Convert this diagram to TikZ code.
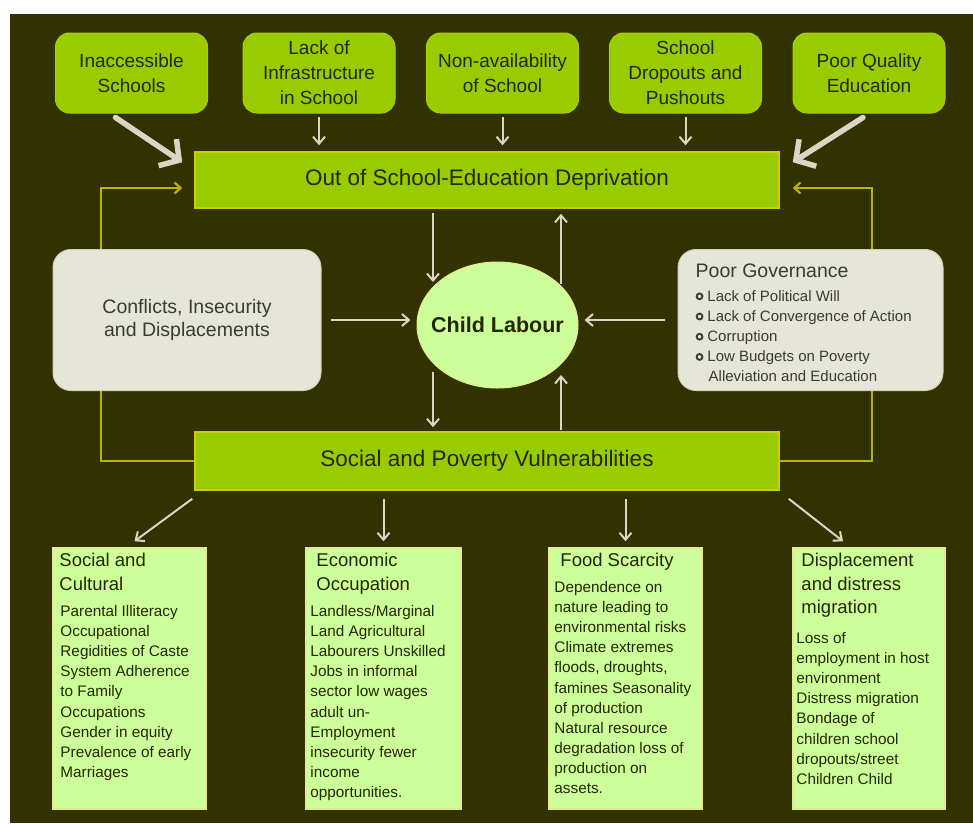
\documentclass[tikz,border=0pt]{standalone}
\usepackage{fontspec}
\setmainfont{Liberation Sans}
\usetikzlibrary{arrows.meta,calc,shapes.geometric}
\pgfdeclarelayer{back}
\pgfdeclarelayer{wires}
\pgfsetlayers{back,wires,main}

\definecolor{night}{HTML}{323200}
\definecolor{leaf}{HTML}{99CC00}
\definecolor{leafedge}{HTML}{ACCF00}
\definecolor{baredge}{HTML}{CCCC00}
\definecolor{pale}{HTML}{CCFF99}
\definecolor{paleedge}{HTML}{E6EA8C}
\definecolor{stone}{HTML}{E6E6D8}
\definecolor{stoneedge}{HTML}{CFCFBF}
\definecolor{chalk}{HTML}{DCD4C6}
\definecolor{loopy}{HTML}{B8B800}
\definecolor{ink}{HTML}{262600}
\definecolor{greyink}{HTML}{3A3A36}

% small open ring used as a list bullet
\newcommand\ringbul{\tikz[baseline=-0.6ex]\draw[line width=1.9pt] (0,0) circle (2.9pt);}

\begin{document}
\begin{tikzpicture}[x=1pt,y=-1pt,
  topbox/.style={rectangle, rounded corners=14pt, fill=leaf, draw=leafedge, line width=1pt,
    minimum width=152pt, minimum height=80pt, inner sep=0pt, align=center,
    font=\fontsize{19}{25}\selectfont, text=ink},
  bar/.style={rectangle, fill=leaf, draw=baredge, line width=1.6pt,
    minimum width=584pt, minimum height=56pt, inner sep=0pt,
    font=\fontsize{22.5}{26}\selectfont, text=ink},
  sidebox/.style={rectangle, rounded corners=18pt, fill=stone, draw=stoneedge, line width=1pt,
    minimum height=141pt, inner sep=0pt},
  hub/.style={ellipse, fill=pale, draw=paleedge, line width=1pt,
    minimum width=161pt, minimum height=126pt, inner sep=0pt},
  lowbox/.style={rectangle, fill=pale, draw=paleedge, line width=1.5pt,
    minimum height=261pt, inner sep=0pt},
  lowtitle/.style={anchor=north west, inner sep=0pt, align=left,
    font=\fontsize{18.5}{23.5}\selectfont, text=ink},
  lowbody/.style={anchor=north west, inner sep=0pt, align=left,
    font=\fontsize{15.3}{20.1}\selectfont, text=ink},
  flow/.style={draw=chalk, line width=2pt, -{Straight Barb[length=7pt,width=12pt]}},
  bigflow/.style={draw=chalk, line width=5.5pt, line cap=round,
    -{Straight Barb[length=14pt,width=32pt]}},
  loop/.style={draw=loopy, line width=2.2pt, -{Straight Barb[length=6pt,width=11pt]}}
]
\useasboundingbox (0,0) rectangle (973,823);
\begin{pgfonlayer}{back}
  \fill[white] (0,0) rectangle (973,823);
  \fill[night] (10,14) rectangle (973,823);
\end{pgfonlayer}

% causes along the top
\node[topbox] (t1) at (131.5,73) {Inaccessible\\Schools};
\node[topbox] (t2) at (319,73) {Lack of\\Infrastructure\\in School};
\node[topbox] (t3) at (502.5,73) {Non-availability\\of School};
\node[topbox] (t4) at (685.5,73) {School\\Dropouts and\\Pushouts};
\node[topbox] (t5) at (869,73) {Poor Quality\\Education};

% the two horizontal bars
\node[bar] (oos) at (487,180) {Out of School-Education Deprivation};
\node[bar, minimum height=58pt] (soc) at (487,461) {Social and Poverty Vulnerabilities};

% centre
\node[hub] (cl) at (497.5,325) {};
\node[inner sep=0pt, font=\fontsize{21.5}{24}\bfseries, text=ink] (cltext) at (cl.center) {Child Labour};
\node[sidebox, minimum width=268pt, align=center,
      font=\fontsize{19.5}{22.5}\selectfont, text=greyink] (conf) at (187,320)
      {Conflicts, Insecurity\\and Displacements};
\node[sidebox, minimum width=265pt] (gov) at (810.5,320) {};
\node[anchor=north west, inner sep=0pt, font=\fontsize{19.5}{23}\selectfont, text=greyink]
      (govtitle) at ($(gov.north west)+(18,15)$) {Poor Governance};
\node[anchor=north west, inner sep=0pt, align=left, font=\fontsize{15}{20.2}\selectfont, text=greyink]
      (govlist) at ($(gov.north west)+(18,41)$)
      {\ringbul\hspace{4pt}Lack of Political Will\\
       \ringbul\hspace{4pt}Lack of Convergence of Action\\
       \ringbul\hspace{4pt}Corruption\\
       \ringbul\hspace{4pt}Low Budgets on Poverty\\
       \hspace*{13pt}Alleviation and Education};

% dimensions of vulnerability
\node[lowbox, minimum width=153pt] (bA) at (129.5,678.5) {};
\node[lowbox, minimum width=155pt] (bB) at (383.5,678.5) {};
\node[lowbox, minimum width=153pt] (bC) at (625.5,678.5) {};
\node[lowbox, minimum width=152pt] (bD) at (869,678.5) {};

\node[lowtitle] (bAt) at ($(bA.north west)+(7,6)$) {Social and\\Cultural};
\node[lowbody]  (bAb) at ($(bA.north west)+(8,58)$)
  {Parental Illiteracy\\Occupational\\Regidities of Caste\\System Adherence\\to Family\\Occupations\\Gender in equity\\Prevalence of early\\Marriages};

\node[lowtitle] (bBt) at ($(bB.north west)+(11,6)$) {Economic\\Occupation};
\node[lowbody]  (bBb) at ($(bB.north west)+(5,58)$)
  {Landless/Marginal\\Land Agricultural\\Labourers Unskilled\\Jobs in informal\\sector low wages\\adult un-\\Employment\\insecurity fewer\\income\\opportunities.};

\node[lowtitle] (bCt) at ($(bC.north west)+(12,6)$) {Food Scarcity};
\node[lowbody]  (bCb) at ($(bC.north west)+(6,34)$)
  {Dependence on\\nature leading to\\environmental risks\\Climate extremes\\floods, droughts,\\famines Seasonality\\of production\\Natural resource\\degradation loss of\\production on\\assets.};

\node[lowtitle] (bDt) at ($(bD.north west)+(9,6)$) {Displacement\\and distress\\migration};
\node[lowbody]  (bDb) at ($(bD.north west)+(4,85)$)
  {Loss of\\employment in host\\environment\\Distress migration\\Bondage of\\children school\\dropouts/street\\Children Child};

\coordinate (loopL) at (101,188);
\coordinate (loopR) at (872,188);

\begin{pgfonlayer}{wires}
  % feedback from vulnerabilities back to deprivation
  \draw[loop] (soc.west) -| (loopL) -- ($(oos.west)+(-12,8)$);
  \draw[loop] (soc.east) -| (loopR) -- ($(oos.east)+(13,8)$);

  % top causes into deprivation
  \draw[bigflow] ($(t1.south)+(-16,4)$) -- ($(oos.north west)+(-12,11)$);
  \draw[bigflow] ($(t5.south)+(-6,4)$) -- ($(oos.north east)+(13,11)$);
  \draw[flow] ($(t2.south)+(0,3)$) -- ($(t2.south |- oos.north)+(0,-6)$);
  \draw[flow] ($(t3.south)+(0,3)$) -- ($(t3.south |- oos.north)+(0,-6)$);
  \draw[flow] ($(t4.south)+(0,3)$) -- ($(t4.south |- oos.north)+(0,-6)$);

  % links around child labour
  \draw[flow] ($(oos.south)+(-54,4)$) -- ($(cl.center)+(-64.5,-43)$);
  \draw[flow] ($(cl.center)+(63.5,-41)$) -- ($(oos.south)+(74,5)$);
  \draw[flow] ($(cl.center)+(-64.5,47)$) -- ($(soc.north)+(-54,-4)$);
  \draw[flow] ($(soc.north)+(74,-1)$) -- ($(cl.center)+(63.5,50)$);
  \draw[flow] ($(conf.east)+(9,0)$) -- ($(conf.east -| cl.west)+(-6,0)$);
  \draw[flow] ($(gov.west)+(-13,0)$) -- ($(gov.west -| cl.east)+(6,0)$);

  % vulnerabilities into their dimensions
  \draw[flow] ($(soc.south west)+(-2,8)$) -- ($(bA.north)+(5,-6)$);
  \draw[flow] ($(bB.north |- soc.south)+(0,8)$) -- ($(bB.north)+(0,-6)$);
  \draw[flow] ($(bC.north |- soc.south)+(0,8)$) -- ($(bC.north)+(0,-6)$);
  \draw[flow] ($(soc.south east)+(9,8)$) -- ($(bD.north)+(-26,-6)$);
\end{pgfonlayer}
\end{tikzpicture}
\end{document}
